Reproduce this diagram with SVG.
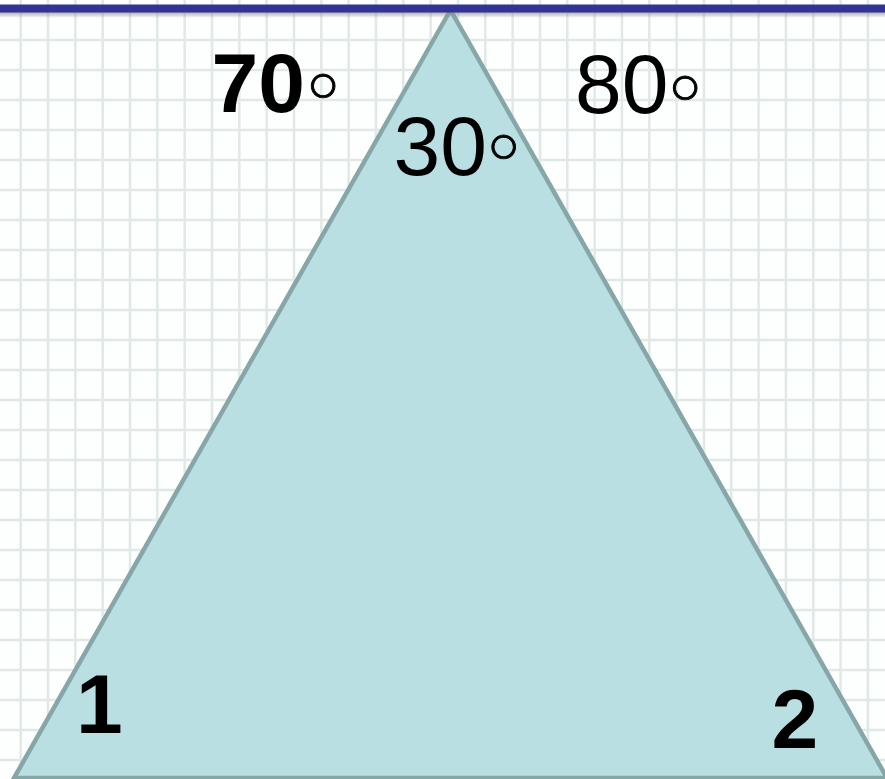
<svg xmlns="http://www.w3.org/2000/svg" width="885" height="779" viewBox="0 0 885 779">
  <defs>
    <linearGradient id="shadow" x1="0" y1="0" x2="0" y2="1">
      <stop offset="0" stop-color="#8a8a8a" stop-opacity="0.7"/>
      <stop offset="1" stop-color="#8a8a8a" stop-opacity="0"/>
    </linearGradient>
  </defs>
  <style>
    .grid { stroke: #e1e9e6; stroke-width: 2.5; fill: none; }
    .tri { fill: #b9dfe3; stroke: #87a6a8; stroke-width: 4.5; stroke-linejoin: miter; }
    .lbl { font-family: "Liberation Sans", Arial, sans-serif; font-size: 84px; fill: #000; }
    .b { font-weight: bold; }
    .deg { font-family: "Liberation Sans", Arial, sans-serif; font-weight: normal; font-size: 54px; stroke: #000; stroke-width: 0.9; }
  </style>
  <rect id="background" x="0" y="0" width="885" height="779" fill="#fdfefe"/>
  <g id="grid">
    <path class="grid" d="M20.7 0V779M48.03 0V779M75.36 0V779M102.69 0V779M130.02 0V779M157.35 0V779M184.68 0V779M212.01 0V779M239.34 0V779M266.67 0V779M294 0V779M321.33 0V779M348.66 0V779M375.99 0V779M403.32 0V779M430.65 0V779M457.98 0V779M485.31 0V779M512.64 0V779M539.97 0V779M567.3 0V779M594.63 0V779M621.96 0V779M649.29 0V779M676.62 0V779M703.95 0V779M731.28 0V779M758.61 0V779M785.94 0V779M813.27 0V779M840.6 0V779M867.93 0V779"/>
    <path class="grid" d="M0 40H885M0 70H885M0 100H885M0 130H885M0 160H885M0 190H885M0 220H885M0 250H885M0 280H885M0 310H885M0 340H885M0 370H885M0 400H885M0 430H885M0 460H885M0 490H885M0 520H885M0 550H885M0 580H885M0 610H885M0 640H885M0 670H885M0 700H885M0 730H885M0 760H885"/>
  </g>
  <g id="triangle">
    <path class="tri" d="M450.5 10L14 778L887 778Z"/>
  </g>
  <g id="top-bar">
    <rect x="0" y="12" width="885" height="6" fill="url(#shadow)"/>
    <rect x="0" y="4.5" width="885" height="8" fill="#313396"/>
  </g>
  <g id="labels">
    <text id="angle-70" class="lbl b" x="211.5" y="112">70<tspan class="deg" x="323" y="102" text-anchor="middle">○</tspan></text>
    <text id="angle-80" class="lbl" x="575" y="113">80<tspan class="deg" x="685" y="104" text-anchor="middle">○</tspan></text>
    <text id="angle-30" class="lbl" x="393.5" y="175">30<tspan class="deg" x="503.5" y="163" text-anchor="middle">○</tspan></text>
    <text id="label-1" class="lbl b" x="76" y="733">1</text>
    <text id="label-2" class="lbl b" x="771.5" y="748">2</text>
  </g>
</svg>
